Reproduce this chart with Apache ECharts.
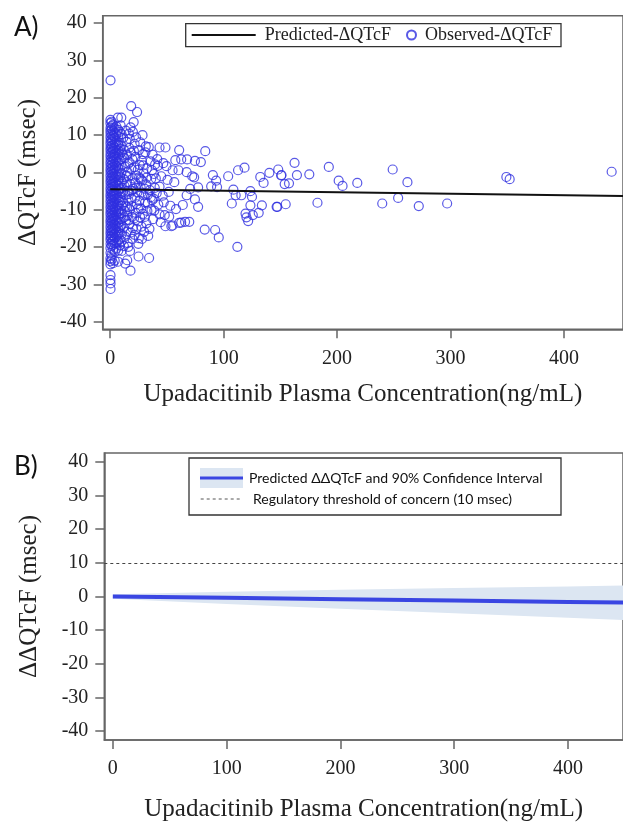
<!DOCTYPE html>
<html><head><meta charset="utf-8">
<script src="https://cdn.jsdelivr.net/npm/echarts@6/dist/echarts.min.js"></script>
<style>html,body{margin:0;padding:0;background:#fff}#c{width:623px;height:823px}</style>
</head><body><div id="c"></div>
<script>
// ---------- data ----------
const xTickValues = [0, 100, 200, 300, 400];
const yTickValues = [-40, -30, -20, -10, 0, 10, 20, 30, 40];

// Panel A: observed ΔQTcF vs concentration
const observedPoints = [
  [0.3,24.7],[0.2,14.1],[0.2,13.2],[0.3,12.0],[0.2,11.2],[0.3,10.4],[0.2,9.5],[0.3,8.6],[0.2,7.8],[0.3,6.9],
  [0.2,6.1],[0.3,5.2],[0.2,4.4],[0.3,3.5],[0.2,2.6],[0.3,1.8],[0.2,0.9],[0.3,0.1],[0.2,-0.8],[0.3,-1.7],
  [0.2,-2.5],[0.3,-3.4],[0.2,-4.3],[0.3,-5.1],[0.2,-6.0],[0.3,-6.8],[0.2,-7.7],[0.3,-8.6],[0.2,-9.4],[0.3,-10.3],
  [0.2,-11.1],[0.3,-12.0],[0.2,-12.9],[0.3,-13.7],[0.2,-14.6],[0.3,-15.5],[0.2,-16.3],[0.3,-17.2],[0.2,-18.0],[0.3,-19.1],
  [0.2,-20.2],[0.3,-21.5],[0.2,-23.0],[0.3,-23.8],[0.2,-24.6],[0.3,-27.5],[0.2,-28.8],[0.3,-29.7],[0.3,-31.2],
  [1.3,13.6],[1.2,12.4],[1.4,11.5],[1.3,10.1],[1.2,9.0],[1.4,8.2],[1.3,7.1],[1.2,6.5],[1.4,5.5],[1.3,4.0],
  [1.2,3.1],[1.4,2.2],[1.3,1.2],[1.2,0.4],[1.4,-0.5],[1.3,-1.4],[1.2,-2.1],[1.4,-3.0],[1.3,-3.9],[1.2,-4.8],
  [1.4,-5.6],[1.3,-6.4],[1.2,-7.3],[1.4,-8.2],[1.3,-9.0],[1.2,-9.9],[1.4,-10.8],[1.3,-11.6],[1.2,-12.5],[1.4,-13.3],
  [1.3,-14.2],[1.2,-15.1],[1.4,-16.0],[1.3,-16.8],[1.2,-17.7],[1.4,-18.6],[1.3,-19.6],[1.2,-22.1],[1.4,-23.3],
  [2.6,12.8],[2.5,11.0],[2.7,9.8],[2.6,8.9],[2.5,7.4],[2.7,6.3],[2.6,5.8],[2.5,4.7],[2.7,3.8],[2.6,2.9],
  [2.5,1.5],[2.7,0.6],[2.6,-0.3],[2.5,-1.1],[2.7,-2.3],[2.6,-3.2],[2.5,-4.0],[2.7,-4.9],[2.6,-5.9],[2.5,-6.6],
  [2.7,-7.5],[2.6,-8.5],[2.5,-9.2],[2.7,-10.1],[2.6,-11.3],[2.5,-12.2],[2.7,-13.0],[2.6,-14.0],[2.5,-14.9],[2.7,-15.8],
  [2.6,-16.9],[2.5,-18.2],[2.7,-19.4],[2.6,-20.6],[2.5,-24.3],
  [4.0,11.8],[3.9,10.6],[4.1,9.3],[4.0,7.9],[3.9,6.7],[4.1,5.1],[4.0,4.3],[3.9,2.4],[4.1,1.0],[4.0,-0.2],
  [3.9,-1.6],[4.1,-2.8],[4.0,-3.7],[3.9,-5.3],[4.1,-6.2],[4.0,-7.0],[3.9,-8.0],[4.1,-9.6],[4.0,-10.6],[3.9,-11.8],
  [4.1,-12.6],[4.0,-13.9],[3.9,-15.2],[4.1,-16.4],[4.0,-17.5],[3.9,-19.0],[4.1,-21.2],[4.0,-23.6],
  [5.5,12.3],[5.4,10.2],[5.6,8.4],[5.5,7.3],[5.4,5.9],[5.6,4.1],[5.5,3.0],[5.4,1.7],[5.6,0.3],[5.5,-1.0],
  [5.4,-2.6],[5.6,-4.5],[5.5,-5.7],[5.4,-7.1],[5.6,-8.8],[5.5,-10.0],[5.4,-11.4],[5.6,-12.9],[5.5,-14.4],[5.4,-15.6],
  [5.6,-17.1],[5.5,-18.8],[5.4,-20.4],
  [6.7,14.7],[7.0,11.4],[7.1,9.7],[6.9,7.6],[7.0,6.0],[7.1,4.6],[6.9,2.8],[7.0,1.3],[7.1,-0.6],[6.9,-2.0],
  [7.0,-3.5],[7.1,-5.0],[6.9,-6.9],[7.0,-8.4],[7.1,-10.4],[6.9,-12.1],[7.0,-13.6],[7.1,-15.0],[6.9,-16.7],[7.0,-18.3],
  [7.1,-20.9],[6.9,-23.9],
  [8.5,10.9],[8.4,8.0],[8.6,6.4],[8.5,4.9],[8.4,3.3],[8.6,0.8],[8.5,-1.2],[8.4,-3.0],[8.6,-4.4],[8.5,-6.6],
  [8.4,-7.9],[8.6,-9.7],[8.5,-11.0],[8.4,-13.2],[8.6,-14.8],[8.5,-16.2],[8.4,-17.9],[8.6,-19.5],
  [9.8,14.7],[10.0,10.3],[10.1,7.2],[9.9,5.4],[10.0,3.6],[10.1,1.9],[9.9,-0.1],[10.0,-2.4],[10.1,-4.1],[9.9,-5.5],
  [10.0,-7.4],[10.1,-9.0],[9.9,-10.9],[10.0,-12.4],[10.1,-14.1],[9.9,-16.6],[10.0,-18.4],[10.1,-21.0],
  [11.5,9.3],[12.0,6.1],[12.5,3.9],[13.0,1.6],[11.8,-1.8],[12.6,-3.6],[13.4,-6.0],[11.4,-8.1],[12.9,-10.3],[14.0,-12.8],
  [11.7,-14.6],[13.2,-17.2],[12.1,-19.7],[13.3,-24.4],[15.0,-23.5],[14.5,8.2],[14.8,4.8],[15.2,0.2],[14.6,-2.6],[15.4,-4.9],
  [14.9,-9.3],[15.3,-11.5],[14.7,-15.8],[15.5,-18.9],[13.8,11.2],
  [16.5,10.4],[17.3,9.0],[16.8,6.6],[18.2,5.3],[17.0,2.7],[18.6,0.9],[16.2,-1.0],[17.9,-3.1],[16.6,-5.8],[18.9,-7.0],
  [17.4,-9.9],[19.2,-11.9],[16.9,-13.8],[18.1,-16.1],[19.6,-17.8],[17.9,-26.3],[18.5,17.8],[20.7,13.5],[20.0,10.9],[19.5,3.6],
  [19.8,-1.6],[20.3,-4.4],[19.9,-14.9],[17.5,-21.0],
  [21.5,7.7],[22.3,4.2],[21.2,1.4],[23.0,-0.8],[22.1,-2.7],[24.0,-5.3],[21.8,-6.8],[23.4,-8.5],[22.5,-10.8],[24.6,-13.1],
  [21.6,-16.7],[23.7,16.2],[25.3,6.0],[26.1,2.0],[25.5,-1.3],[26.8,-3.9],[25.8,-7.6],[27.2,-9.7],[26.4,-12.0],[27.6,-14.5],
  [25.2,-17.6],[28.5,10.0],[28.9,4.9],[29.4,-0.2],[28.2,-2.2],[29.6,-6.1],[28.7,-11.1],[29.9,-15.9],[24.8,-19.1],[27.9,3.2],
  [31.0,5.4],[32.4,1.1],[31.6,-3.2],[33.2,-5.9],[30.8,-8.0],[32.8,-10.3],[31.9,-13.6],[33.5,-17.0],[34.3,-22.9],[35.5,3.0],
  [36.2,-1.7],[35.0,-4.7],[37.0,-7.4],[36.4,-9.9],[37.8,-12.5],[38.6,-0.4],[39.3,-4.1],[38.2,-7.0],[39.6,2.2],[34.0,6.8],
  [9.2,12.6],[11.0,4.7],[11.2,-5.2],[12.3,-12.0],[13.6,-8.9],[14.2,-0.9],[15.8,2.3],[16.1,-7.5],[16.3,-12.7],[16.0,-19.9],
  [18.0,12.1],[18.8,-4.9],[19.0,-9.0],[20.9,5.8],[21.0,-12.3],[22.8,9.4],[22.6,-4.1],[23.2,-15.1],[24.3,0.7],[24.5,-9.6],
  [25.0,-22.5],[26.5,8.1],[27.0,-1.8],[27.4,-5.4],[28.0,-17.8],[29.1,1.9],[30.2,-4.3],[30.5,-11.9],[31.4,7.0],[32.0,-1.4],
  [33.0,-8.3],[34.6,-15.1],[35.8,-6.6],[36.9,0.6],[37.4,4.8],[38.9,-10.2],[40.2,-1.6],[41.0,-5.5],[42.0,1.8],[44.5,-13.3],
  [46.8,2.5],[47.2,-8.0],[50.5,-2.0],[52.0,-11.8],
  [41.5,3.6],[43.5,6.7],[48.7,6.7],[49.6,1.7],[43.5,-3.8],[45.0,-1.0],[46.3,-6.2],[42.4,-8.6],[43.5,-11.2],[48.1,-11.4],
  [48.7,-14.4],[53.9,-14.4],[55.0,-14.2],[51.6,-5.2],[55.0,0.6],[60.2,0.6],[57.4,3.3],[62.6,3.5],[67.8,3.5],[60.8,6.0],
  [74.7,3.1],[79.9,2.8],[83.8,5.7],[67.4,0.1],[72.3,-1.0],[74.0,-1.3],[90.5,-0.7],[93.4,-2.2],[89.0,-3.7],[94.2,-3.9],
  [77.5,-4.0],[67.4,-6.1],[74.7,-7.2],[77.5,-9.2],[60.8,-13.5],[62.6,-13.4],[66.0,-13.2],[69.7,-13.2],[83.3,-15.3],[92.5,-15.4],
  [95.7,-17.4],[58.0,-9.8],[64.0,-8.7],[70.5,-4.4],[53.0,-8.9],[56.5,-2.6],
  [104.0,-1.0],[112.7,0.6],[118.4,1.3],[108.6,-4.6],[110.6,-6.1],[115.6,-6.1],[123.6,-5.0],[125.0,-6.5],[107.2,-8.3],[112.1,-19.9],
  [119.3,-11.0],[120.1,-12.0],[121.6,-13.0],[125.7,-11.4],[130.9,-10.8],[123.6,-8.8],[132.3,-1.2],[135.2,-2.8],[133.7,-8.8],[140.3,-0.1],
  [146.7,-9.2],[148.1,0.8],[150.7,-0.8],[153.8,-3.1],[151.0,-0.7],[162.5,2.6],[164.6,-0.7],[157.6,-2.9],[175.5,-0.5],[192.7,1.5],
  [201.4,-2.2],[204.8,-3.6],[217.8,-2.8],[249.0,0.8],[262.0,-2.6],[253.8,-6.8],[239.8,-8.3],[272.0,-9.0],[297.0,-8.3],[182.7,-8.1],
  [154.7,-8.5],[147.3,-9.2],[349.2,-1.2],[352.1,-1.8],[442.0,0.2]
];
// Panel A: predicted ΔQTcF line (end points)
const predConc = [0, 452];
const predDQTcF = [-4.5, -6.3];

// Panel B: predicted ΔΔQTcF with 90% CI
const bConc = [0, 100, 200, 300, 400, 450];
const bPred = [0, -0.4, -0.8, -1.2, -1.6, -1.8];
const bLower = [-0.7, -2.2, -3.6, -5.0, -6.3, -7.0];
const bUpper = [0.7, 1.4, 2.0, 2.5, 3.0, 3.3];
const threshold = 10;

// ---------- chart ----------
const serif = 'Liberation Serif';
const axisColor = '#666';
const textColor = '#222';
const xTitle = 'Upadacitinib Plasma Concentration(ng/mL)';
const bandColor = '#dce6f2';
const bLineColor = '#3a46e2';

function xAxisCfg(gridIndex, min, max, nameGap) {
  return {
    type: 'value', gridIndex, min, max,
    name: xTitle, nameLocation: 'middle', nameGap,
    nameTextStyle: { fontFamily: serif, fontSize: 25, color: textColor },
    axisLine: { show: true, onZero: false, lineStyle: { color: axisColor, width: 1.5 } },
    axisTick: { show: true, inside: false, length: 9, customValues: xTickValues, lineStyle: { color: axisColor, width: 1.5 } },
    axisLabel: { customValues: xTickValues, margin: 19, fontFamily: serif, fontSize: 20, color: textColor },
    splitLine: { show: false }
  };
}
function yAxisCfg(gridIndex, min, max, name) {
  return {
    type: 'value', gridIndex, min, max,
    name, nameLocation: 'middle', nameGap: 62,
    nameTextStyle: { fontFamily: serif, fontSize: 25, color: textColor },
    axisLine: { show: true, onZero: false, lineStyle: { color: axisColor, width: 1.5 } },
    axisTick: { show: true, inside: false, length: 9, customValues: yTickValues, lineStyle: { color: axisColor, width: 1.5 } },
    axisLabel: { customValues: yTickValues, margin: 16, fontFamily: serif, fontSize: 20, color: textColor },
    splitLine: { show: false }
  };
}

const chart = echarts.init(document.getElementById('c'), null, { renderer: 'canvas' });
const blue = '#2f2fe0';
chart.setOption({
  animation: false,
  backgroundColor: '#fff',
  grid: [
    { left: 102.7, top: 15.7, width: 530.6, height: 313.6, show: true, borderColor: axisColor, borderWidth: 1.5 },
    { left: 104.3, top: 453, width: 527.4, height: 289.7, show: true, borderColor: axisColor, borderWidth: 1.5 }
  ],
  xAxis: [xAxisCfg(0, -6.6, 452, 53), xAxisCfg(1, -7.5, 448.3, 57)],
  yAxis: [yAxisCfg(0, -42, 42, 'ΔQTcF (msec)'), yAxisCfg(1, -42.6, 42.6, 'ΔΔQTcF (msec)')],
  legend: [
    { data: [{ name: 'Predicted-ΔQTcF', icon: 'rect' }], left: 191.7, top: 25, padding: 0, itemWidth: 64, itemHeight: 2, selectedMode: false,
      textStyle: { fontFamily: serif, fontSize: 18, color: textColor, lineHeight: 20, padding: [0, 0, 0, 4] } },
    { data: ['Observed-ΔQTcF'], left: 406, top: 25, padding: 0, itemWidth: 9, itemHeight: 9, selectedMode: false,
      textStyle: { fontFamily: serif, fontSize: 18, color: textColor, lineHeight: 20, padding: [0, 0, 0, 4] } }
  ],
  series: [
    { name: 'Observed-ΔQTcF', type: 'scatter', xAxisIndex: 0, yAxisIndex: 0,
      data: observedPoints, symbol: 'circle', symbolSize: 9,
      itemStyle: { color: 'rgba(0,0,0,0)', borderColor: blue, borderWidth: 1.2 } },
    { name: 'Predicted-ΔQTcF', type: 'line', xAxisIndex: 0, yAxisIndex: 0,
      data: predConc.map((c, i) => [c, predDQTcF[i]]), symbol: 'none',
      itemStyle: { color: '#111' }, lineStyle: { color: '#111', width: 2 }, z: 5 },
    { name: 'ciBand', type: 'custom', xAxisIndex: 1, yAxisIndex: 1, clip: true, silent: true,
      data: bConc.map((c, i) => [c, bLower[i], bUpper[i]]),
      encode: { x: 0, y: [1, 2] },
      renderItem: function (params, api) {
        if (params.dataIndex !== 0) return null;
        const pts = [];
        for (let i = 0; i < bConc.length; i++) pts.push(api.coord([bConc[i], bUpper[i]]));
        for (let i = bConc.length - 1; i >= 0; i--) pts.push(api.coord([bConc[i], bLower[i]]));
        return { type: 'polygon', shape: { points: pts }, style: { fill: bandColor } };
      }, z: 2 },
    { name: 'Predicted ΔΔQTcF', type: 'line', xAxisIndex: 1, yAxisIndex: 1,
      data: bConc.map((c, i) => [c, bPred[i]]), symbol: 'none',
      lineStyle: { color: bLineColor, width: 4 }, z: 5,
      markLine: { silent: true, symbol: 'none', label: { show: false },
        lineStyle: { color: '#444', type: [3, 3], width: 1.2 }, data: [{ yAxis: threshold }] } }
  ],
  graphic: [
    { type: 'text', left: 14, top: 15, style: { text: 'A)', font: '26px Lato', fill: '#111' } },
    { type: 'text', left: 14, top: 454, style: { text: 'B)', font: '26px Lato', fill: '#111' } },
    { type: 'rect', shape: { x: 185.7, y: 23.7, width: 375.3, height: 23 }, style: { fill: 'none', stroke: '#333', lineWidth: 1.3 }, z: 10 },
    { type: 'rect', shape: { x: 189, y: 458, width: 372, height: 57 }, style: { fill: '#fff', stroke: '#333', lineWidth: 1.3 }, z: 10 },
    { type: 'rect', shape: { x: 200, y: 468, width: 43, height: 20 }, style: { fill: bandColor }, z: 11 },
    { type: 'line', shape: { x1: 200, y1: 478, x2: 243, y2: 478 }, style: { stroke: bLineColor, lineWidth: 3 }, z: 12 },
    { type: 'line', shape: { x1: 200.7, y1: 499, x2: 240, y2: 499 }, style: { stroke: '#555', lineWidth: 1, lineDash: [3, 3] }, z: 12 },
    { type: 'text', x: 249, y: 478, style: { text: 'Predicted ΔΔQTcF and 90% Confidence Interval', font: '14px Lato', fill: '#111', verticalAlign: 'middle' }, z: 12 },
    { type: 'text', x: 253, y: 499, style: { text: 'Regulatory threshold of concern (10 msec)', font: '14px Lato', fill: '#111', verticalAlign: 'middle' }, z: 12 }
  ]
});
</script></body></html>
